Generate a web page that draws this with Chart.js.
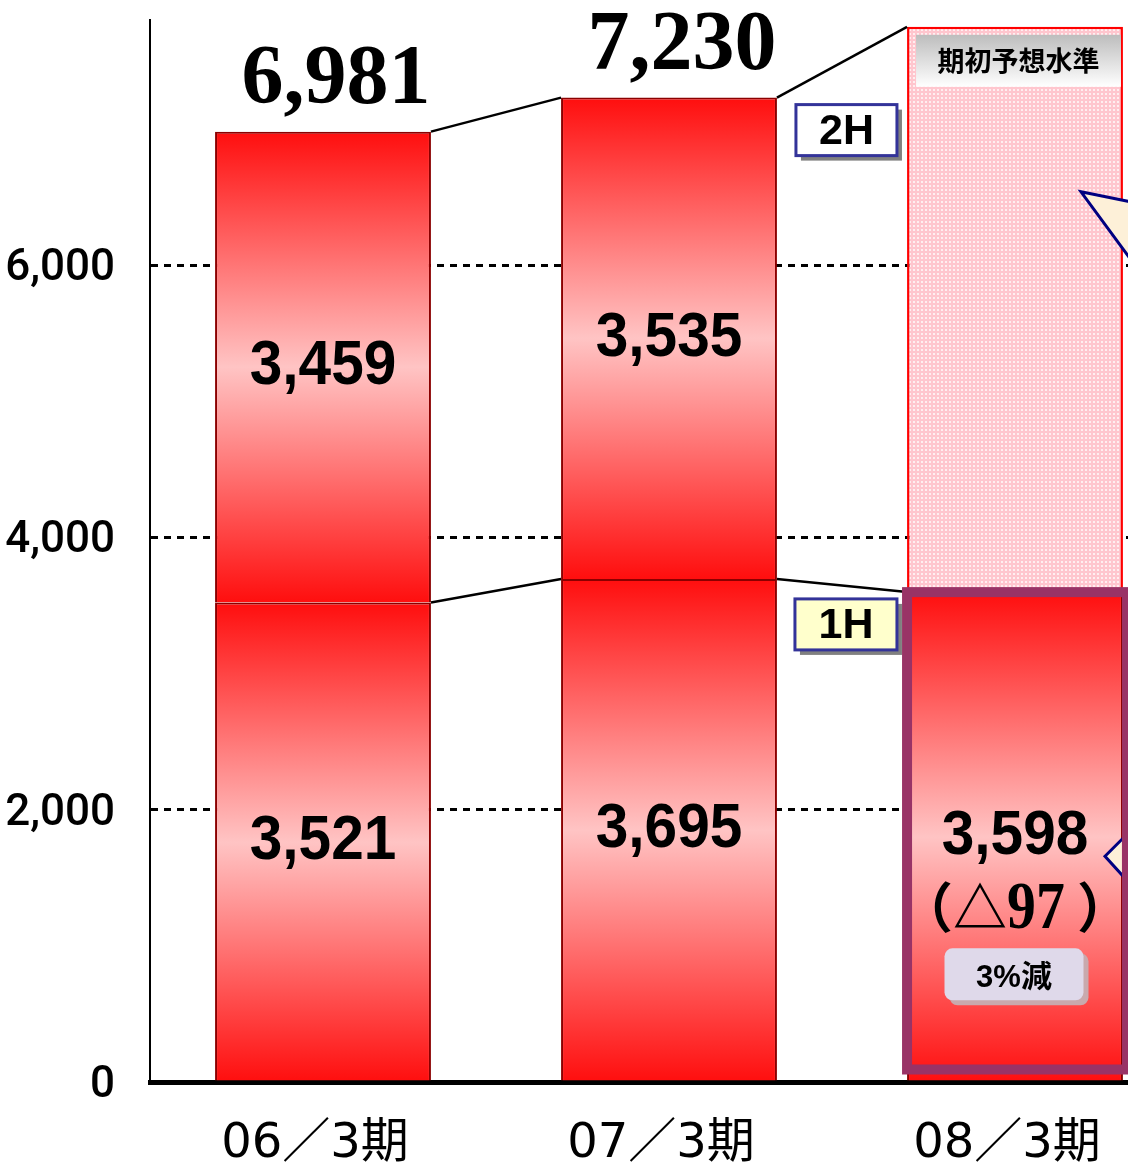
<!DOCTYPE html>
<html>
<head>
<meta charset="utf-8">
<script src="https://cdn.jsdelivr.net/npm/chart.js@4.4.1/dist/chart.umd.min.js"></script>
<style>
    html, body { margin: 0; padding: 0; background: #fff; overflow: hidden; }
    #wrap { position: absolute; left: 0; top: 0; width: 1188px; height: 1165px; }
</style>
</head>
<body>
<div id="wrap"><canvas id="chart" width="1188" height="1165"></canvas></div>
<script>
const categories = ['06／3期', '07／3期', '08／3期'];
const firstHalf = [3521, 3695, 3598];
const secondHalf = [3459, 3535, 4152];   // 08/3: rest of the initial forecast level
const totalLabels = ['6,981', '7,230', null];
const yTicks = [0, 2000, 4000, 6000];
const yMax = 7800;
const forecastTitle = '期初予想水準';
const changeNote = ['（', '△', '97', '）'];
const changeRate = '3%減';

const canvas = document.getElementById('chart');

function dotPattern() {
    const c = document.createElement('canvas');
    c.width = 4; c.height = 4;
    const p = c.getContext('2d');
    p.fillStyle = '#ffc6ce';
    p.fillRect(0, 0, 4, 4);
    p.fillStyle = '#ffeef0';
    p.fillRect(1, 1, 2, 2);
    return canvas.getContext('2d').createPattern(c, 'repeat');
}
const forecastFill = dotPattern();

function isForecast(ctx) {
    return ctx.datasetIndex === 1 && ctx.dataIndex === 2;
}

function segmentFill(ctx) {
    const chart = ctx.chart;
    if (!chart.chartArea || ctx.dataIndex === undefined) return '#ff1010';
    if (isForecast(ctx)) return forecastFill;
    const i = ctx.dataIndex;
    const lo = ctx.datasetIndex === 0 ? 0 : firstHalf[i];
    const hi = lo + (ctx.datasetIndex === 0 ? firstHalf[i] : secondHalf[i]);
    const y = chart.scales.y;
    const g = chart.ctx.createLinearGradient(0, y.getPixelForValue(hi), 0, y.getPixelForValue(lo));
    g.addColorStop(0, '#ff0e0e');
    g.addColorStop(0.5, '#ffc4c4');
    g.addColorStop(1, '#ff0e0e');
    return g;
}

function drawText(ctx, text, x, y, font, scaleX = 1) {
    ctx.save();
    ctx.font = font;
    ctx.translate(x, y);
    ctx.scale(scaleX, 1);
    ctx.fillText(text, 0, 0);
    ctx.restore();
}

function labelBox(ctx, text, left, top, w, h, fill) {
    ctx.fillStyle = '#808080';
    ctx.fillRect(left + 5, top + 5, w, h);
    ctx.fillStyle = fill;
    ctx.fillRect(left, top, w, h);
    ctx.lineWidth = 3;
    ctx.strokeStyle = '#333399';
    ctx.strokeRect(left, top, w, h);
    ctx.fillStyle = '#000';
    ctx.textAlign = 'center';
    ctx.textBaseline = 'middle';
    drawText(ctx, text, left + w / 2, top + h / 2 + 2, 'bold 43px "Liberation Sans", Arial, sans-serif');
}

function triangle(ctx, pts) {
    ctx.beginPath();
    ctx.moveTo(pts[0][0], pts[0][1]);
    pts.slice(1).forEach(p => ctx.lineTo(p[0], p[1]));
    ctx.closePath();
    ctx.fillStyle = '#fdf0d8';
    ctx.fill();
    ctx.lineWidth = 3;
    ctx.strokeStyle = '#000080';
    ctx.stroke();
}

const overlay = {
    id: 'overlay',
    afterDatasetsDraw(chart) {
        const ctx = chart.ctx;
        const h1 = chart.getDatasetMeta(0).data;
        const h2 = chart.getDatasetMeta(1).data;
        const half = h1[0].width / 2;

        ctx.save();

        // connector lines between bar tops
        ctx.strokeStyle = '#000';
        ctx.lineWidth = 2.5;
        [h1, h2].forEach(bars => {
            for (let i = 0; i < bars.length - 1; i++) {
                ctx.beginPath();
                ctx.moveTo(bars[i].x + half, bars[i].y);
                ctx.lineTo(bars[i + 1].x - half, bars[i + 1].y);
                ctx.stroke();
            }
        });

        // values inside the segments
        ctx.fillStyle = '#000';
        ctx.textAlign = 'center';
        ctx.textBaseline = 'middle';
        const valueFont = 'bold 63px "Liberation Sans", Arial, sans-serif';
        for (let i = 0; i < 2; i++) {
            drawText(ctx, firstHalf[i].toLocaleString('en-US'), h1[i].x, (h1[i].y + h1[i].base) / 2, valueFont, 0.93);
            drawText(ctx, secondHalf[i].toLocaleString('en-US'), h2[i].x, (h2[i].y + h2[i].base) / 2, valueFont, 0.93);
        }

        // totals above the bars
        ctx.textBaseline = 'alphabetic';
        totalLabels.forEach((t, i) => {
            if (!t) return;
            drawText(ctx, t, h2[i].x + 13, h2[i].y - 29, 'bold 84px "Liberation Serif", "Times New Roman", serif');
        });

        // 08/3 first half block
        const b = h1[2];
        const mid = (b.y + b.base) / 2;
        ctx.textBaseline = 'middle';
        drawText(ctx, firstHalf[2].toLocaleString('en-US'), b.x, mid, valueFont, 0.93);

        const pieces = [
            { t: changeNote[0], f: 'bold 54px "Noto Sans CJK JP", sans-serif', s: 1, gap: 0 },
            { t: changeNote[1], f: 'bold 54px "Noto Sans CJK JP", sans-serif', s: 1, gap: 0 },
            { t: changeNote[2], f: 'bold 68px "Liberation Serif", serif', s: 0.85, gap: 12 },
            { t: changeNote[3], f: 'bold 54px "Noto Sans CJK JP", sans-serif', s: 1, gap: 0 }
        ];
        let total = 0;
        pieces.forEach(p => {
            ctx.font = p.f;
            p.w = ctx.measureText(p.t).width * p.s;
            total += p.w + p.gap;
        });
        let px = b.x - total / 2;
        ctx.textAlign = 'left';
        ctx.textBaseline = 'alphabetic';
        pieces.forEach(p => {
            drawText(ctx, p.t, px, mid + 92, p.f, p.s);
            px += p.w + p.gap;
        });

        // "3%減" rounded tag
        const tw = 139, th = 52, tl = b.x - 1 - tw / 2, tt = mid + 112;
        ctx.fillStyle = '#c9a9ad';
        ctx.beginPath();
        ctx.roundRect(tl + 5, tt + 5, tw, th, 8);
        ctx.fill();
        ctx.fillStyle = '#dfd9ea';
        ctx.beginPath();
        ctx.roundRect(tl, tt, tw, th, 8);
        ctx.fill();
        ctx.fillStyle = '#000';
        ctx.textAlign = 'center';
        ctx.textBaseline = 'middle';
        drawText(ctx, changeRate, b.x - 1, tt + th / 2 + 4, 'bold 31px "Liberation Sans", "Noto Sans CJK JP", sans-serif');

        // lower callout tip (partly hidden by the frame)
        triangle(ctx, [[b.x + 90, mid + 20], [b.x + 130, mid - 20], [b.x + 130, mid + 64]]);

        // purple frame around the 08/3 first half
        ctx.lineWidth = 10;
        ctx.strokeStyle = '#993366';
        ctx.strokeRect(b.x - half, b.y, half * 2 + 4, b.base - 11 - b.y);

        // forecast header
        const f = h2[2];
        const hl = f.x - half + 9, ht = f.y + 8, hw = half * 2 - 11, hh = 52;
        const g = ctx.createLinearGradient(0, ht, 0, ht + hh);
        g.addColorStop(0, '#bdbdbd');
        g.addColorStop(1, '#ffffff');
        ctx.fillStyle = g;
        ctx.fillRect(hl, ht, hw, hh);
        ctx.fillStyle = '#000';
        drawText(ctx, forecastTitle, hl + hw / 2, ht + hh / 2, 'bold 27px "Noto Sans CJK JP", sans-serif');

        // upper callout tip
        triangle(ctx, [[f.x + 66, f.y + 165], [f.x + 130, f.y + 178], [f.x + 130, f.y + 252]]);

        // half-year tags
        const tagLeft = h1[1].x + half + 19;
        labelBox(ctx, '2H', tagLeft, h2[1].y + 7, 101, 51, '#ffffff');
        labelBox(ctx, '1H', tagLeft - 1, h1[1].y + 20, 102, 51, '#ffffcc');

        ctx.restore();
    }
};

new Chart(canvas, {
    type: 'bar',
    data: {
        labels: categories,
        datasets: [
            {
                label: '1H',
                data: firstHalf,
                backgroundColor: segmentFill,
                borderColor: '#8b0000',
                borderWidth: 2
            },
            {
                label: '2H',
                data: secondHalf,
                backgroundColor: segmentFill,
                borderColor: ctx => isForecast(ctx) ? '#ff0000' : '#8b0000',
                borderWidth: ctx => isForecast(ctx) ? 2.5 : 2
            }
        ]
    },
    options: {
        responsive: false,
        animation: false,
        layout: { padding: { top: 20, left: 0, right: 0, bottom: 0 } },
        datasets: { bar: { barPercentage: 0.624, categoryPercentage: 1 } },
        plugins: {
            legend: { display: false },
            tooltip: { enabled: false }
        },
        scales: {
            x: {
                stacked: true,
                grid: { display: false, drawTicks: false },
                border: { display: true, color: '#000', width: 5 },
                ticks: {
                    color: '#000',
                    padding: 34,
                    labelOffset: -8,
                    font: { family: '"DejaVu Sans", "Noto Sans CJK JP", sans-serif', size: 48 }
                },
                afterFit: s => { s.height = 83; }
            },
            y: {
                stacked: true,
                min: 0,
                max: yMax,
                afterBuildTicks: s => { s.ticks = yTicks.map(v => ({ value: v })); },
                afterFit: s => {
                    s.width = 150;
                    s.paddingTop = 0;
                    s.paddingBottom = 0;
                },
                grid: { color: '#000', lineWidth: 3, drawTicks: false },
                border: { display: true, color: '#000', width: 2, dash: [7, 6] },
                ticks: {
                    color: '#000',
                    padding: 35,
                    labelOffset: 4,
                    font: { family: 'Roboto, "Liberation Sans", sans-serif', size: 44, weight: '500' },
                    callback: v => v.toLocaleString('en-US')
                }
            }
        }
    },
    plugins: [overlay]
});
</script>
</body>
</html>
